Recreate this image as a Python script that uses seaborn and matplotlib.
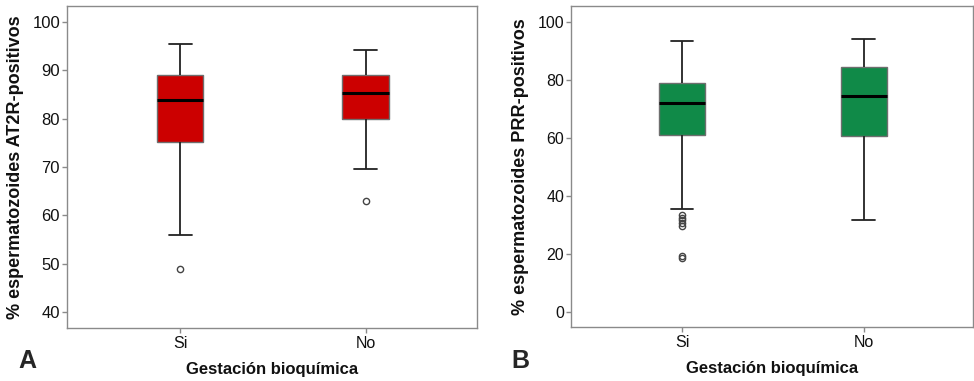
import matplotlib
matplotlib.use("Agg")
import matplotlib.pyplot as plt
import seaborn as sns
import pandas as pd

# ---- data (values chosen to reproduce the box statistics) ----
categorias = ["Si", "No"]

at2r_si = [48.8, 56.0, 70.0, 75.2, 78.0, 81.0, 83.9, 86.0, 87.5, 89.0, 91.0, 93.0, 95.5]
at2r_no = [62.9, 69.5, 79.9, 82.0, 85.4, 87.0, 89.0, 91.5, 94.3]

prr_si = [18.7, 19.3, 29.5, 30.5, 31.5, 32.5, 33.5, 35.5, 60.9,
          62.0, 63.5, 65.0, 66.5, 68.0, 69.5, 71.0, 72.1,
          73.0, 74.0, 75.0, 76.0, 77.0, 78.0, 78.5, 79.0,
          80.5, 82.0, 84.0, 86.0, 88.0, 90.0, 92.0, 93.4]
prr_no = [31.8, 45.0, 55.0, 60.7, 66.0, 70.0, 74.4, 78.0, 81.0, 84.5, 88.0, 91.0, 94.2]

yticks_a = [40, 50, 60, 70, 80, 90, 100]
yticks_b = [0, 20, 40, 60, 80, 100]

ylabel_a = "% espermatozoides AT2R-positivos"
ylabel_b = "% espermatozoides PRR-positivos"
xlabel = "Gestación bioquímica"

df_a = pd.DataFrame({"grupo": ["Si"] * len(at2r_si) + ["No"] * len(at2r_no),
                     "valor": at2r_si + at2r_no})
df_b = pd.DataFrame({"grupo": ["Si"] * len(prr_si) + ["No"] * len(prr_no),
                     "valor": prr_si + prr_no})

sns.set_theme(style="white")
plt.rcParams["font.family"] = ["Liberation Sans", "DejaVu Sans"]

fig = plt.figure(figsize=(9.74, 3.81), dpi=100)
W, H = 974, 381
ax_a = fig.add_axes([67 / W, 1 - 328 / H, 410 / W, 322 / H])
ax_b = fig.add_axes([571 / W, 1 - 327 / H, 402 / W, 321 / H])

spine_col = "#8a8a8a"

def draw(ax, df, color, ylim, yticks, ylabel, ylabel_x, ticksize):
    sns.boxplot(data=df, x="grupo", y="valor", order=categorias, ax=ax,
                color=color, saturation=1, width=0.25, linecolor="#555555",
                linewidth=1.1, fliersize=4.5,
                whiskerprops=dict(color="#222222", linewidth=1.3),
                capprops=dict(color="#222222", linewidth=1.3),
                medianprops=dict(color="black", linewidth=2.2),
                boxprops=dict(edgecolor="#6e6e6e", linewidth=1.0),
                flierprops=dict(marker="o", markerfacecolor="none",
                                markeredgecolor="#444444", markeredgewidth=1.0))
    ax.set_xlim(-0.61, 1.60)
    ax.set_ylim(*ylim)
    ax.set_yticks(yticks)
    ax.set_yticklabels([str(t) for t in yticks])
    for s in ax.spines.values():
        s.set_visible(True)
        s.set_color(spine_col)
        s.set_linewidth(1.0)
    ax.tick_params(axis="both", which="both", direction="out", length=3.5,
                   width=1.0, color=spine_col, labelsize=ticksize, labelcolor="#111111",
                   left=True, bottom=True, pad=1.5)
    ax.tick_params(axis="x", labelsize=11.5, pad=2)
    ax.set_ylabel(ylabel, fontsize=13, fontweight="bold", color="#111111")
    ax.set_xlabel(xlabel, fontsize=12, fontweight="bold", color="#111111")
    ax.yaxis.set_label_coords(ylabel_x, 0.5)
    ax.xaxis.set_label_coords(0.5, -0.105)
    ax.grid(False)

draw(ax_a, df_a, "#CC0000", (36.7, 103.3), yticks_a, ylabel_a, -0.105, 12)
draw(ax_b, df_b, "#108A48", (-5.3, 105.6), yticks_b, ylabel_b, -0.105, 11.5)

fig.text(18 / W, 1 - 361 / H, "A", fontsize=18, fontweight="bold", va="center", ha="left")
fig.text(511 / W, 1 - 361 / H, "B", fontsize=18, fontweight="bold", va="center", ha="left")

fig.savefig("out.png", dpi=100)
